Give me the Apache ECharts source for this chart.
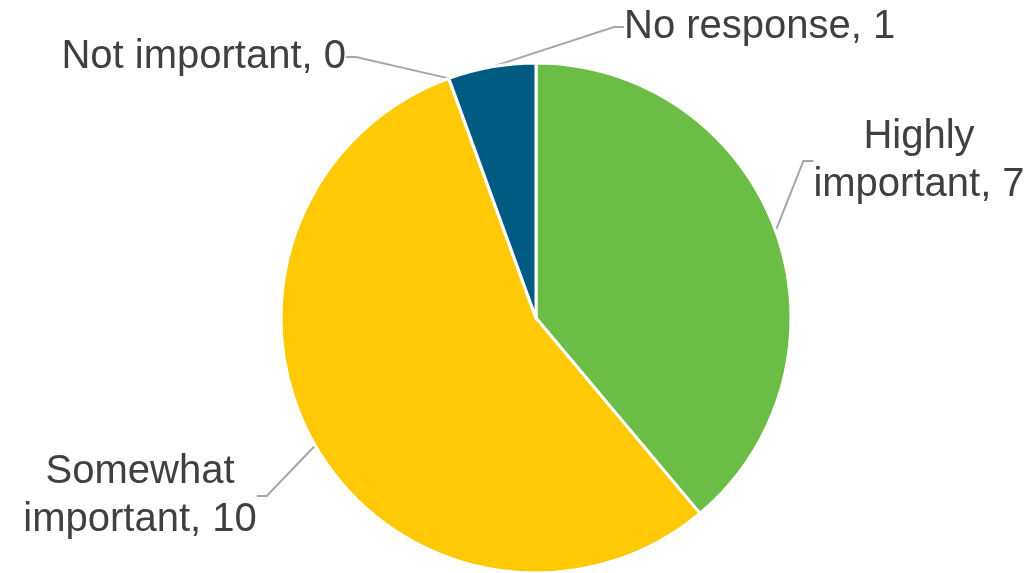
<!DOCTYPE html>
<html>
<head>
<meta charset="utf-8">
<script src="https://cdn.jsdelivr.net/npm/echarts@6/dist/echarts.min.js"></script>
<style>
  html, body { margin: 0; padding: 0; background: #fff; }
  #main { width: 1033px; height: 573px; }
</style>
</head>
<body>
<div id="main"></div>
<script>
var categories = ['Highly\nimportant', 'Somewhat\nimportant', 'Not important', 'No response'];
var counts = [7, 10, 0, 1];
var colors = ['#6CBD45', '#FFCA05', '#A5A5A5', '#005B82'];

// where each label sits (x, y of anchor, alignment)
var labelSpots = [
  { x: 919, y: 161, align: 'center' },
  { x: 140, y: 496, align: 'center' },
  { x: 346, y: 57, align: 'right' },
  { x: 624, y: 27, align: 'left' }
];

var myChart = echarts.init(document.getElementById('main'));
myChart.setOption({
  backgroundColor: '#ffffff',
  animation: false,
  series: [{
    type: 'pie',
    center: [536, 318],
    radius: 255,
    startAngle: 90,
    clockwise: true,
    avoidLabelOverlap: false,
    itemStyle: {
      borderColor: '#ffffff',
      borderWidth: 3
    },
    label: {
      show: true,
      formatter: '{b}, {c}',
      fontFamily: '"Liberation Sans", Arial, sans-serif',
      fontSize: 40,
      lineHeight: 48,
      color: '#404040'
    },
    labelLine: {
      show: true,
      length: 20,
      length2: 10,
      smooth: false,
      lineStyle: { color: '#A6A6A6', width: 2 }
    },
    labelLayout: function (params) {
      var s = labelSpots[params.dataIndex];
      return {
        x: s.x,
        y: s.y,
        align: s.align,
        verticalAlign: 'middle'
      };
    },
    data: categories.map(function (name, i) {
      return {
        name: name,
        value: counts[i],
        itemStyle: { color: colors[i] }
      };
    })
  }]
});

window.addEventListener('resize', function () {
  myChart.resize();
});
</script>
</body>
</html>
